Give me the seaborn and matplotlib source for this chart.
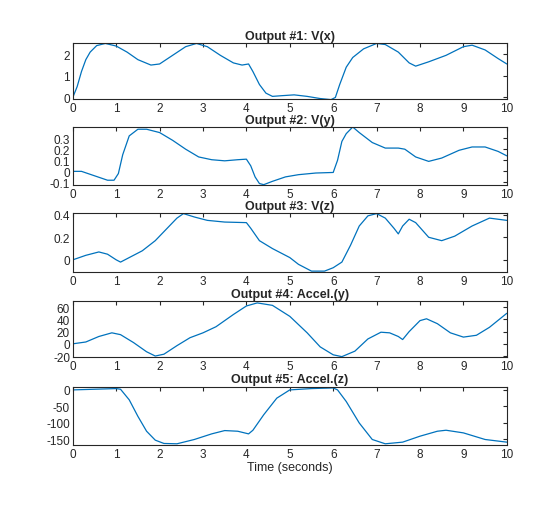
import numpy as np
import pandas as pd
import matplotlib
matplotlib.use("Agg")
import matplotlib.pyplot as plt
import seaborn as sns

sns.set_style("white")
plt.rcParams["font.family"] = ["Liberation Sans", "DejaVu Sans"]

titles = ["Output #1: V(x)", "Output #2: V(y)", "Output #3: V(z)",
          "Output #4: Accel.(y)", "Output #5: Accel.(z)"]

t1 = [0, 0.1, 0.2, 0.3, 0.4, 0.55, 0.75, 1.0, 1.25, 1.5, 1.8, 2.0, 2.3, 2.6, 2.85, 3.1, 3.4, 3.7, 3.9, 4.05,
      4.15, 4.3, 4.45, 4.6, 4.8, 5.1, 5.4, 5.7, 5.95, 6.05, 6.15, 6.3, 6.45, 6.7, 7.0, 7.2, 7.5, 7.75, 7.9,
      8.2, 8.6, 9.0, 9.2, 9.5, 9.8, 10]
vx = [0, 0.5, 1.2, 1.75, 2.1, 2.4, 2.5, 2.38, 2.1, 1.75, 1.5, 1.55, 1.95, 2.35, 2.5, 2.35, 1.95, 1.6, 1.5, 1.55,
      1.2, 0.6, 0.2, 0.05, 0.08, 0.12, 0.05, -0.05, -0.1, 0, 0.6, 1.4, 1.85, 2.25, 2.5, 2.45, 2.1, 1.6, 1.45,
      1.65, 1.95, 2.35, 2.42, 2.2, 1.8, 1.55]

t2 = [0, 0.2, 0.5, 0.8, 0.95, 1.05, 1.15, 1.3, 1.5, 1.7, 2.0, 2.3, 2.6, 2.9, 3.2, 3.5, 3.8, 4.0, 4.1, 4.2,
      4.3, 4.4, 4.6, 4.9, 5.2, 5.6, 6.0, 6.1, 6.2, 6.3, 6.45, 6.6, 6.9, 7.2, 7.5, 7.65, 7.9, 8.2, 8.5, 8.9,
      9.2, 9.5, 9.8, 10]
vy = [0, 0.0, -0.04, -0.08, -0.08, -0.02, 0.15, 0.32, 0.38, 0.38, 0.35, 0.28, 0.2, 0.13, 0.105, 0.095, 0.105,
      0.11, 0.05, -0.05, -0.11, -0.12, -0.09, -0.05, -0.03, -0.015, -0.01, 0.1, 0.27, 0.34, 0.4, 0.35, 0.26,
      0.21, 0.21, 0.2, 0.13, 0.09, 0.12, 0.19, 0.22, 0.22, 0.18, 0.14]

t3 = [0, 0.3, 0.6, 0.8, 1.0, 1.1, 1.3, 1.6, 1.9, 2.2, 2.4, 2.55, 2.8, 3.1, 3.5, 4.0, 4.1, 4.3, 4.6, 5.0, 5.2,
      5.5, 5.8, 6.0, 6.2, 6.4, 6.6, 6.8, 7.0, 7.2, 7.4, 7.5, 7.6, 7.75, 7.9, 8.2, 8.5, 8.8, 9.2, 9.6, 10]
vz = [0, 0.04, 0.07, 0.05, 0.0, -0.02, 0.02, 0.08, 0.17, 0.29, 0.37, 0.41, 0.38, 0.35, 0.335, 0.33, 0.28, 0.17,
      0.1, 0.02, -0.04, -0.1, -0.1, -0.07, -0.02, 0.13, 0.3, 0.39, 0.41, 0.37, 0.28, 0.23, 0.3, 0.36, 0.33,
      0.2, 0.17, 0.21, 0.3, 0.37, 0.35]

t4 = [0, 0.3, 0.6, 0.9, 1.1, 1.4, 1.7, 1.9, 2.1, 2.4, 2.7, 3.0, 3.3, 3.7, 4.0, 4.25, 4.6, 5.0, 5.4, 5.7, 6.0,
      6.2, 6.5, 6.8, 7.1, 7.3, 7.5, 7.6, 7.75, 8.0, 8.15, 8.4, 8.7, 9.0, 9.3, 9.6, 10]
ay = [0, 3, 12, 18, 15, 2, -13, -20, -17, -3, 10, 18, 28, 48, 62, 67, 63, 45, 18, -5, -18, -21, -12, 8, 19, 18,
      12, 7, 20, 38, 41, 33, 18, 11, 14, 27, 50]

t5 = [0, 0.5, 1.0, 1.1, 1.3, 1.5, 1.7, 1.9, 2.1, 2.4, 2.8, 3.2, 3.5, 3.8, 4.05, 4.15, 4.4, 4.7, 5.0, 5.5, 6.0,
      6.1, 6.3, 6.6, 6.9, 7.2, 7.6, 8.0, 8.4, 8.6, 9.0, 9.5, 10]
az = [0, 2, 4, 2, -30, -80, -125, -152, -162, -163, -150, -133, -123, -125, -133, -122, -75, -25, 0, 4, 6, 0,
      -35, -100, -150, -163, -158, -140, -125, -122, -130, -150, -158]

series = [(t1, vx), (t2, vy), (t3, vz), (t4, ay), (t5, az)]
ylims = [(-0.08, 2.52), (-0.125, 0.4), (-0.11, 0.415), (-22, 70), (-166, 10)]
yticks = [[0, 1, 2], [-0.1, 0, 0.1, 0.2, 0.3], [0, 0.2, 0.4], [-20, 0, 20, 40, 60], [-150, -100, -50, 0]]
ytlabels = [["0", "1", "2"], ["-0.1", "0", "0.1", "0.2", "0.3"], ["0", "0.2", "0.4"],
            ["-20", "0", "20", "40", "60"], ["-150", "-100", "-50", "0"]]
bottoms = [0.802, 0.632, 0.460, 0.292, 0.119]
heights = [0.111, 0.115, 0.117, 0.111, 0.115]

fig = plt.figure(figsize=(5.6, 5.06), dpi=100)
for i, ((t, v), title) in enumerate(zip(series, titles)):
    ax = fig.add_axes([0.130, bottoms[i], 0.775, heights[i]])
    df = pd.DataFrame({"t": t, "v": v})
    sns.lineplot(data=df, x="t", y="v", ax=ax, color="#0072BD", lw=0.9, sort=False)
    ax.set_xlim(0, 10)
    ax.set_ylim(*ylims[i])
    ax.set_xticks(range(11))
    ax.set_yticks(yticks[i])
    ax.set_yticklabels(ytlabels[i])
    ax.tick_params(direction="in", length=3, labelsize=8.5, pad=2, top=True, right=True,
                   colors="#262626")
    for s in ax.spines.values():
        s.set_color("#262626")
        s.set_linewidth(0.8)
    ax.set_title(title, fontsize=9, fontweight="bold", pad=3, color="#262626")
    ax.set_ylabel("")
    ax.set_xlabel("Time (seconds)" if i == 4 else "", fontsize=9, labelpad=1, color="#262626")

fig.savefig("out.png", dpi=100)
